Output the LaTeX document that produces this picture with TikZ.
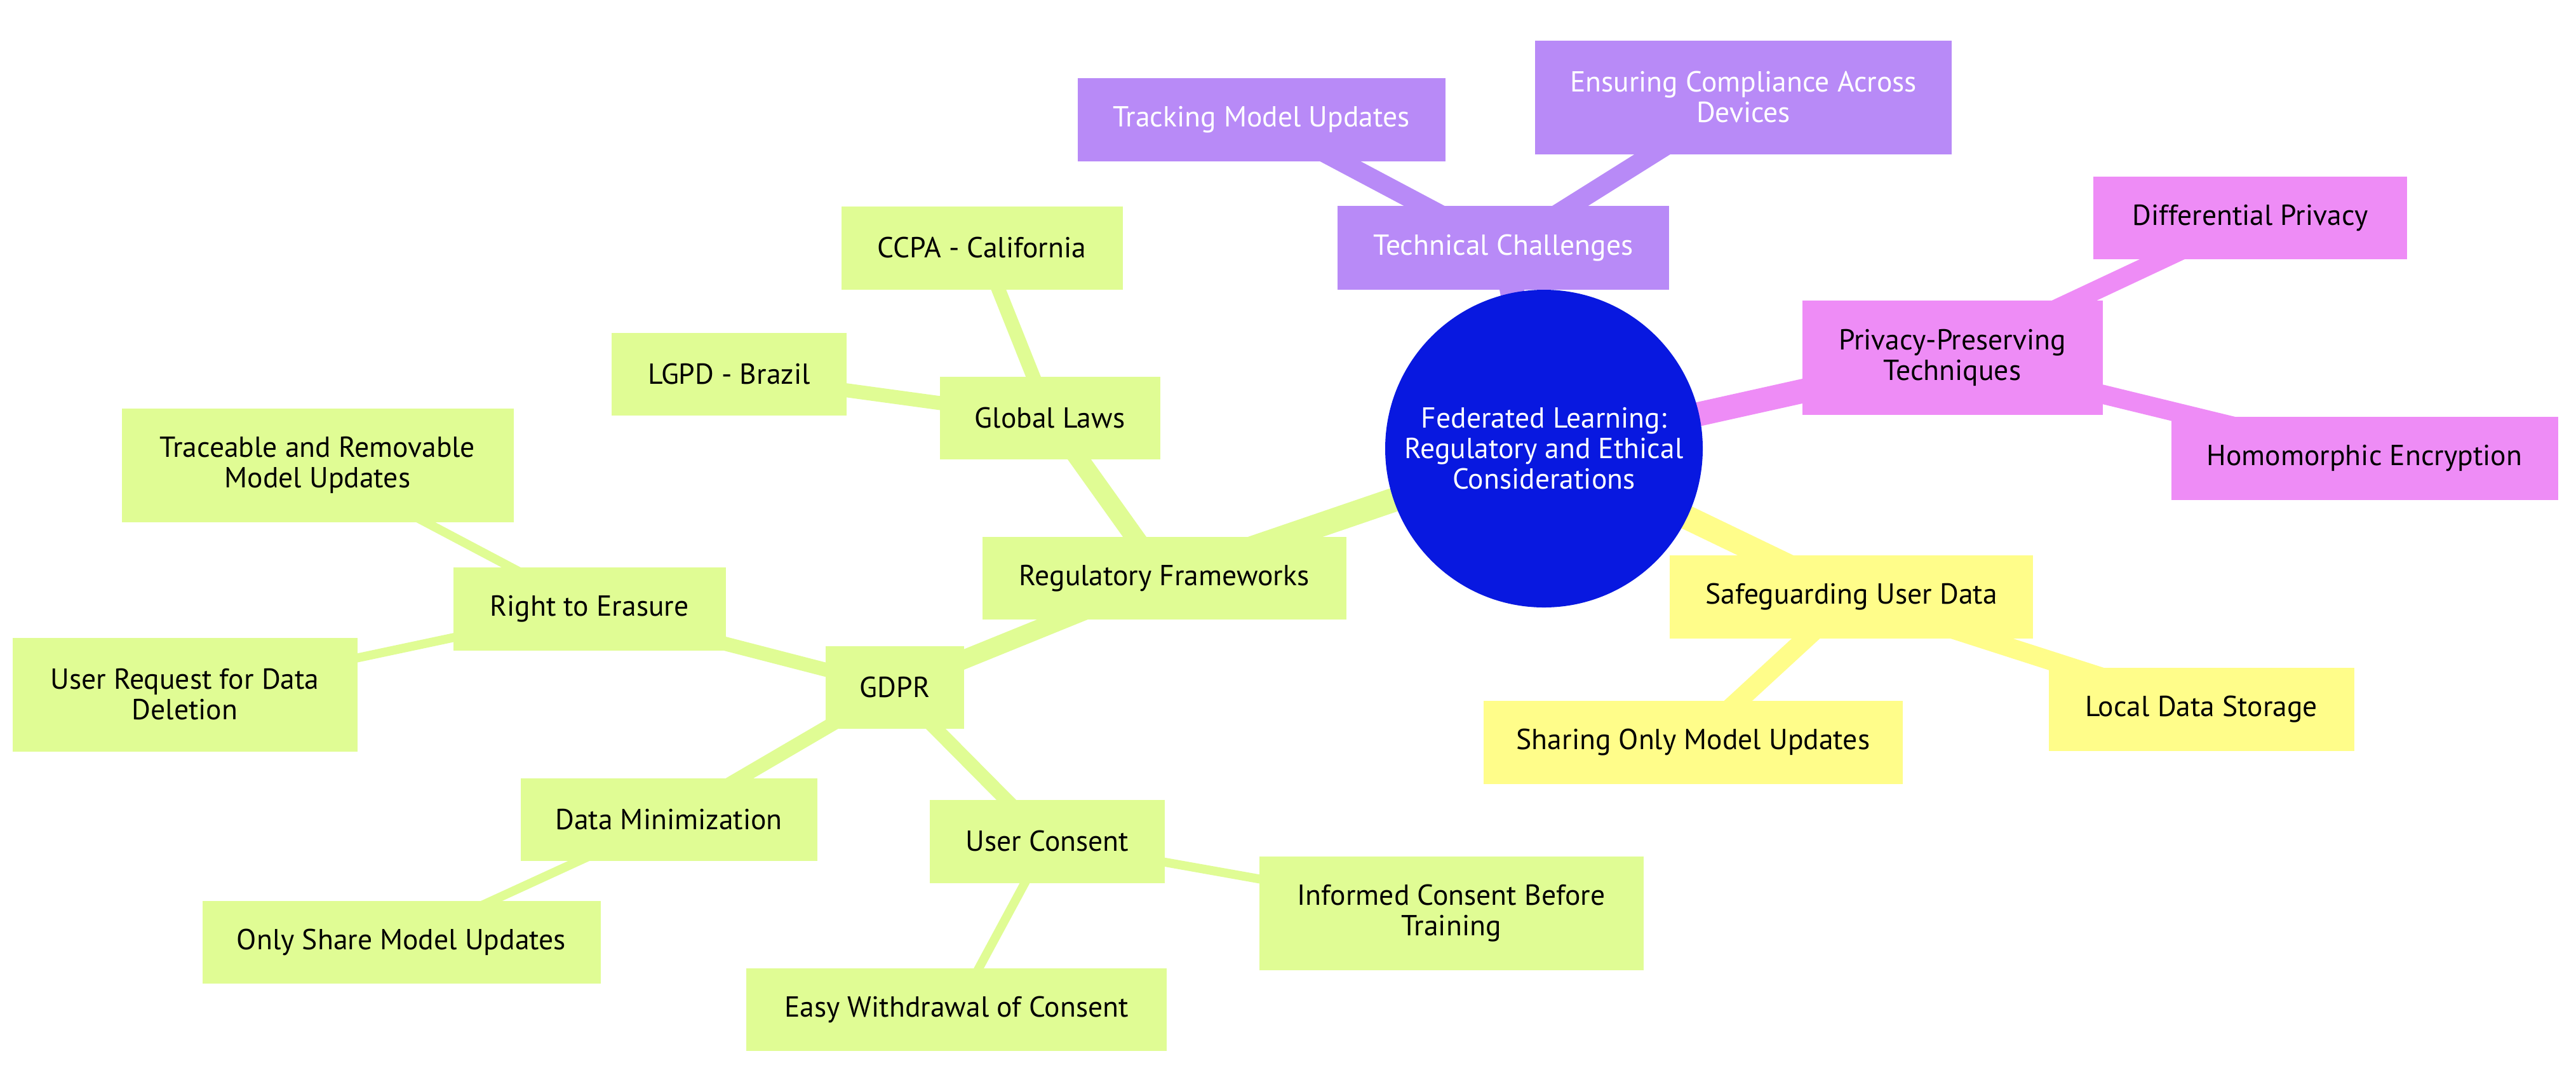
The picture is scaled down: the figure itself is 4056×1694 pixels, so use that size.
\documentclass[tikz,border=0pt]{standalone}
\usepackage{fontspec}
\setmainfont{PT Sans}
\pgfdeclarelayer{back}
\pgfdeclarelayer{edges}
\pgfsetlayers{back,edges,main}
\definecolor{cRoot}{HTML}{0818E0}
\definecolor{cGreen}{HTML}{E0FC94}
\definecolor{cPurple}{HTML}{B88AF7}
\definecolor{cPink}{HTML}{EE8CF6}
\definecolor{cYellow}{HTML}{FFFD8A}
\begin{document}
\begin{tikzpicture}[x=0.25pt,y=-0.25pt,
  base/.style={inner sep=0pt, align=center, font=\fontsize{11.4}{12}\selectfont, text=black},
  box/.style 2 args={base, rectangle, minimum width=#1*0.25pt, minimum height=#2*0.25pt},
  rootnode/.style={base, circle, fill=cRoot, text=white, minimum size=125pt},
  gbox/.style={fill=cGreen},
  pbox/.style={fill=cPurple, text=white},
  kbox/.style={fill=cPink},
  ybox/.style={fill=cYellow},
  lv0/.style={line width=9.5pt},
  lv1/.style={line width=7.5pt},
  lv2/.style={line width=5.5pt},
  lv3/.style={line width=3.5pt}]
\useasboundingbox (0,0) rectangle (4056,1694);
\begin{pgfonlayer}{back}
\fill[white] (0,0) rectangle (4056,1694);
\end{pgfonlayer}

% root
\node[rootnode] (root) at (2431,706) {Federated Learning:\\Regulatory and Ethical\\Considerations};

% level 1
\node[box={522}{132}, pbox] (TC) at (2367,390) {Technical Challenges};
\node[box={473}{180}, kbox] (PP) at (3074,563) {Privacy-Preserving\\Techniques};
\node[box={572}{131}, ybox] (SU) at (2915,939) {Safeguarding User Data};
\node[box={573}{130}, gbox] (RF) at (1833,910) {Regulatory Frameworks};

% level 2
\node[box={579}{131}, pbox] (TMU) at (1986,188) {Tracking Model Updates};
\node[box={656}{179}, pbox] (ECD) at (2745,153) {Ensuring Compliance Across\\Devices};
\node[box={494}{130}, kbox] (DP) at (3543,343) {Differential Privacy};
\node[box={609}{131}, kbox] (HE) at (3723,721) {Homomorphic Encryption};
\node[box={660}{131}, ybox] (SOMU) at (2666,1168) {Sharing Only Model Updates};
\node[box={481}{131}, ybox] (LDS) at (3466,1116) {Local Data Storage};
\node[box={347}{130}, gbox] (GL) at (1653,658) {Global Laws};
\node[box={218}{130}, gbox] (GDPR) at (1409,1082) {GDPR};

% level 3
\node[box={443}{131}, gbox] (CCPA) at (1546,390) {CCPA - California};
\node[box={370}{130}, gbox] (LGPD) at (1148,589) {LGPD - Brazil};
\node[box={429}{131}, gbox] (RTE) at (928,958) {Right to Erasure};
\node[box={467}{130}, gbox] (DM) at (1053,1290) {Data Minimization};
\node[box={370}{131}, gbox] (UC) at (1649,1324) {User Consent};

% level 4
\node[box={617}{179}, gbox] (TRMU) at (500,732) {Traceable and Removable\\Model Updates};
\node[box={543}{179}, gbox] (URDD) at (291,1093) {User Request for Data\\Deletion};
\node[box={627}{130}, gbox] (OSMU) at (632,1483) {Only Share Model Updates};
\node[box={662}{130}, gbox] (EWC) at (1506,1589) {Easy Withdrawal of Consent};
\node[box={605}{179}, gbox] (ICBT) at (2285,1437) {Informed Consent Before\\Training};

\begin{pgfonlayer}{edges}
\draw[lv0, cPurple] (root.center) -- (TC.center);
\draw[lv0, cPink] (root.center) -- (PP.center);
\draw[lv0, cYellow] (root.center) -- (SU.center);
\draw[lv0, cGreen] (root.center) -- (RF.center);
\draw[lv1, cPurple] (TC.center) -- (TMU.center);
\draw[lv1, cPurple] (TC.center) -- (ECD.center);
\draw[lv1, cPink] (PP.center) -- (DP.center);
\draw[lv1, cPink] (PP.center) -- (HE.center);
\draw[lv1, cYellow] (SU.center) -- (SOMU.center);
\draw[lv1, cYellow] (SU.center) -- (LDS.center);
\draw[lv1, cGreen] (RF.center) -- (GL.center);
\draw[lv1, cGreen] (RF.center) -- (GDPR.center);
\draw[lv2, cGreen] (GL.center) -- (CCPA.center);
\draw[lv2, cGreen] (GL.center) -- (LGPD.center);
\draw[lv2, cGreen] (GDPR.center) -- (RTE.center);
\draw[lv2, cGreen] (GDPR.center) -- (DM.center);
\draw[lv2, cGreen] (GDPR.center) -- (UC.center);
\draw[lv3, cGreen] (RTE.center) -- (TRMU.center);
\draw[lv3, cGreen] (RTE.center) -- (URDD.center);
\draw[lv3, cGreen] (DM.center) -- (OSMU.center);
\draw[lv3, cGreen] (UC.center) -- (EWC.center);
\draw[lv3, cGreen] (UC.center) -- (ICBT.center);
\end{pgfonlayer}
\end{tikzpicture}
\end{document}
